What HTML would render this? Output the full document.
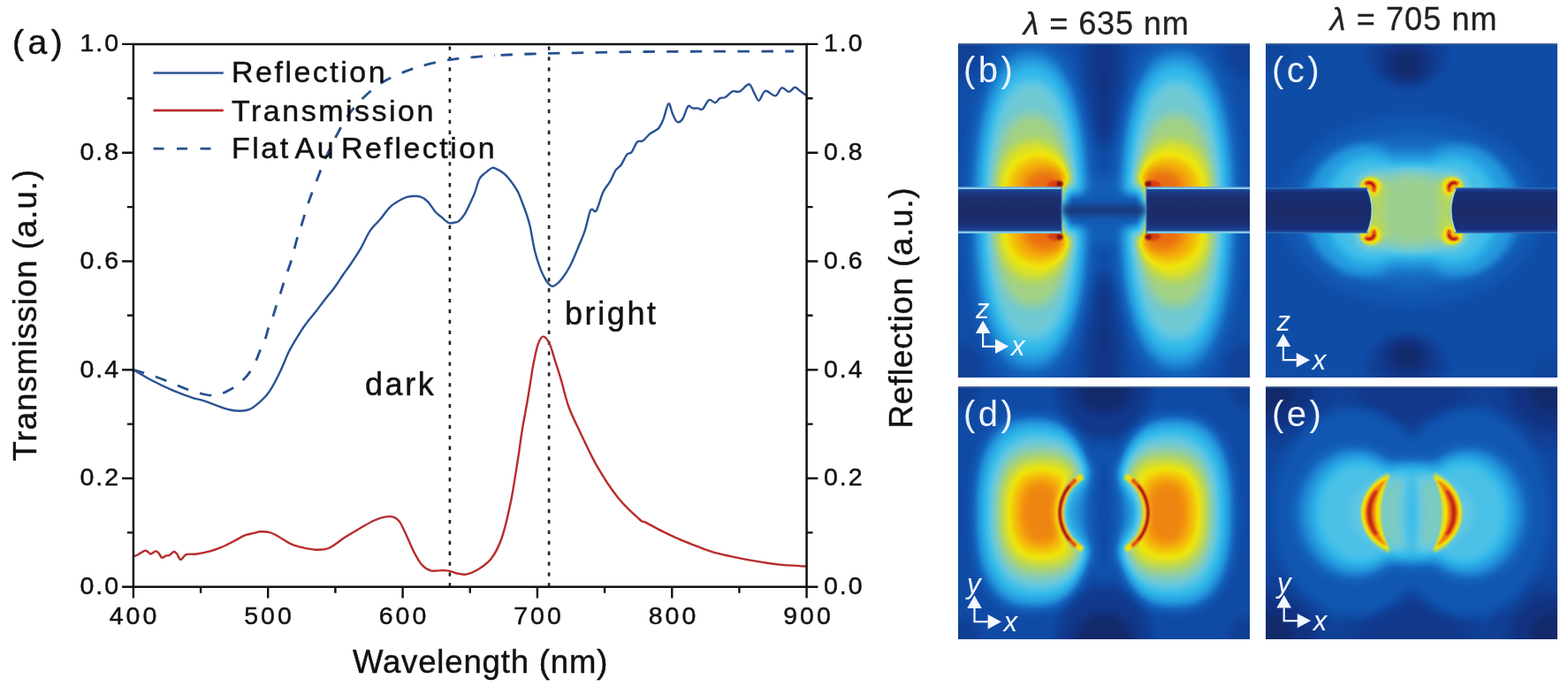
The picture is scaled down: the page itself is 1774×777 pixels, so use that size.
<!DOCTYPE html><html><head><meta charset="utf-8"><style>html,body{margin:0;padding:0;background:#fff;overflow:hidden;}svg{display:block}text{font-family:'Liberation Sans', Arial, sans-serif}</style></head><body>
<svg width="1774" height="777" viewBox="0 0 1774 777">
<defs>
<filter id="fb" x="-50%" y="-50%" width="200%" height="200%" color-interpolation-filters="sRGB"><feGaussianBlur stdDeviation="6"/><feComponentTransfer><feFuncR type="table" tableValues="0.078 0.077 0.075 0.074 0.072 0.071 0.068 0.066 0.064 0.061 0.059 0.062 0.066 0.070 0.074 0.078 0.089 0.100 0.112 0.124 0.135 0.147 0.159 0.170 0.182 0.194 0.227 0.266 0.305 0.344 0.383 0.416 0.447 0.478 0.509 0.540 0.574 0.609 0.644 0.679 0.714 0.755 0.797 0.840 0.883 0.926 0.944 0.948 0.951 0.955 0.959 0.956 0.948 0.941 0.933 0.925 0.907 0.881 0.855 0.829 0.759 0.676 0.593 0.510"/><feFuncG type="table" tableValues="0.137 0.149 0.161 0.172 0.184 0.196 0.215 0.234 0.254 0.273 0.293 0.312 0.331 0.351 0.370 0.390 0.426 0.465 0.504 0.543 0.582 0.611 0.638 0.666 0.693 0.720 0.735 0.746 0.758 0.770 0.782 0.787 0.791 0.795 0.799 0.803 0.810 0.817 0.825 0.833 0.841 0.851 0.863 0.874 0.886 0.898 0.875 0.832 0.789 0.746 0.703 0.656 0.605 0.555 0.504 0.454 0.399 0.342 0.285 0.228 0.183 0.142 0.100 0.059"/><feFuncB type="table" tableValues="0.333 0.368 0.403 0.438 0.473 0.508 0.536 0.563 0.590 0.618 0.645 0.665 0.684 0.704 0.723 0.743 0.766 0.789 0.812 0.836 0.859 0.873 0.884 0.896 0.908 0.919 0.915 0.908 0.900 0.892 0.884 0.853 0.814 0.775 0.736 0.697 0.639 0.573 0.506 0.440 0.374 0.311 0.248 0.186 0.124 0.062 0.039 0.039 0.039 0.039 0.039 0.044 0.052 0.059 0.067 0.075 0.078 0.078 0.078 0.078 0.074 0.069 0.064 0.059"/></feComponentTransfer></filter>
<filter id="fc" x="-50%" y="-50%" width="200%" height="200%" color-interpolation-filters="sRGB"><feGaussianBlur stdDeviation="6"/><feComponentTransfer><feFuncR type="table" tableValues="0.078 0.077 0.075 0.074 0.072 0.071 0.068 0.066 0.064 0.061 0.059 0.062 0.066 0.070 0.074 0.078 0.089 0.100 0.112 0.124 0.135 0.147 0.159 0.170 0.182 0.194 0.227 0.266 0.305 0.344 0.383 0.416 0.447 0.478 0.509 0.540 0.574 0.609 0.644 0.679 0.714 0.755 0.797 0.840 0.883 0.926 0.944 0.948 0.951 0.955 0.959 0.956 0.948 0.941 0.933 0.925 0.907 0.881 0.855 0.829 0.759 0.676 0.593 0.510"/><feFuncG type="table" tableValues="0.137 0.149 0.161 0.172 0.184 0.196 0.215 0.234 0.254 0.273 0.293 0.312 0.331 0.351 0.370 0.390 0.426 0.465 0.504 0.543 0.582 0.611 0.638 0.666 0.693 0.720 0.735 0.746 0.758 0.770 0.782 0.787 0.791 0.795 0.799 0.803 0.810 0.817 0.825 0.833 0.841 0.851 0.863 0.874 0.886 0.898 0.875 0.832 0.789 0.746 0.703 0.656 0.605 0.555 0.504 0.454 0.399 0.342 0.285 0.228 0.183 0.142 0.100 0.059"/><feFuncB type="table" tableValues="0.333 0.368 0.403 0.438 0.473 0.508 0.536 0.563 0.590 0.618 0.645 0.665 0.684 0.704 0.723 0.743 0.766 0.789 0.812 0.836 0.859 0.873 0.884 0.896 0.908 0.919 0.915 0.908 0.900 0.892 0.884 0.853 0.814 0.775 0.736 0.697 0.639 0.573 0.506 0.440 0.374 0.311 0.248 0.186 0.124 0.062 0.039 0.039 0.039 0.039 0.039 0.044 0.052 0.059 0.067 0.075 0.078 0.078 0.078 0.078 0.074 0.069 0.064 0.059"/></feComponentTransfer></filter>
<filter id="fd" x="-50%" y="-50%" width="200%" height="200%" color-interpolation-filters="sRGB"><feGaussianBlur stdDeviation="6"/><feComponentTransfer><feFuncR type="table" tableValues="0.078 0.077 0.075 0.074 0.072 0.071 0.068 0.066 0.064 0.061 0.059 0.062 0.066 0.070 0.074 0.078 0.089 0.100 0.112 0.124 0.135 0.147 0.159 0.170 0.182 0.194 0.227 0.266 0.305 0.344 0.383 0.416 0.447 0.478 0.509 0.540 0.574 0.609 0.644 0.679 0.714 0.755 0.797 0.840 0.883 0.926 0.944 0.948 0.951 0.955 0.959 0.956 0.948 0.941 0.933 0.925 0.907 0.881 0.855 0.829 0.759 0.676 0.593 0.510"/><feFuncG type="table" tableValues="0.137 0.149 0.161 0.172 0.184 0.196 0.215 0.234 0.254 0.273 0.293 0.312 0.331 0.351 0.370 0.390 0.426 0.465 0.504 0.543 0.582 0.611 0.638 0.666 0.693 0.720 0.735 0.746 0.758 0.770 0.782 0.787 0.791 0.795 0.799 0.803 0.810 0.817 0.825 0.833 0.841 0.851 0.863 0.874 0.886 0.898 0.875 0.832 0.789 0.746 0.703 0.656 0.605 0.555 0.504 0.454 0.399 0.342 0.285 0.228 0.183 0.142 0.100 0.059"/><feFuncB type="table" tableValues="0.333 0.368 0.403 0.438 0.473 0.508 0.536 0.563 0.590 0.618 0.645 0.665 0.684 0.704 0.723 0.743 0.766 0.789 0.812 0.836 0.859 0.873 0.884 0.896 0.908 0.919 0.915 0.908 0.900 0.892 0.884 0.853 0.814 0.775 0.736 0.697 0.639 0.573 0.506 0.440 0.374 0.311 0.248 0.186 0.124 0.062 0.039 0.039 0.039 0.039 0.039 0.044 0.052 0.059 0.067 0.075 0.078 0.078 0.078 0.078 0.074 0.069 0.064 0.059"/></feComponentTransfer></filter>
<filter id="fe" x="-50%" y="-50%" width="200%" height="200%" color-interpolation-filters="sRGB"><feGaussianBlur stdDeviation="6"/><feComponentTransfer><feFuncR type="table" tableValues="0.078 0.077 0.075 0.074 0.072 0.071 0.068 0.066 0.064 0.061 0.059 0.062 0.066 0.070 0.074 0.078 0.089 0.100 0.112 0.124 0.135 0.147 0.159 0.170 0.182 0.194 0.227 0.266 0.305 0.344 0.383 0.416 0.447 0.478 0.509 0.540 0.574 0.609 0.644 0.679 0.714 0.755 0.797 0.840 0.883 0.926 0.944 0.948 0.951 0.955 0.959 0.956 0.948 0.941 0.933 0.925 0.907 0.881 0.855 0.829 0.759 0.676 0.593 0.510"/><feFuncG type="table" tableValues="0.137 0.149 0.161 0.172 0.184 0.196 0.215 0.234 0.254 0.273 0.293 0.312 0.331 0.351 0.370 0.390 0.426 0.465 0.504 0.543 0.582 0.611 0.638 0.666 0.693 0.720 0.735 0.746 0.758 0.770 0.782 0.787 0.791 0.795 0.799 0.803 0.810 0.817 0.825 0.833 0.841 0.851 0.863 0.874 0.886 0.898 0.875 0.832 0.789 0.746 0.703 0.656 0.605 0.555 0.504 0.454 0.399 0.342 0.285 0.228 0.183 0.142 0.100 0.059"/><feFuncB type="table" tableValues="0.333 0.368 0.403 0.438 0.473 0.508 0.536 0.563 0.590 0.618 0.645 0.665 0.684 0.704 0.723 0.743 0.766 0.789 0.812 0.836 0.859 0.873 0.884 0.896 0.908 0.919 0.915 0.908 0.900 0.892 0.884 0.853 0.814 0.775 0.736 0.697 0.639 0.573 0.506 0.440 0.374 0.311 0.248 0.186 0.124 0.062 0.039 0.039 0.039 0.039 0.039 0.044 0.052 0.059 0.067 0.075 0.078 0.078 0.078 0.078 0.074 0.069 0.064 0.059"/></feComponentTransfer></filter>
<filter id="fs" x="-50%" y="-50%" width="200%" height="200%" color-interpolation-filters="sRGB"><feGaussianBlur stdDeviation="1.3"/><feComponentTransfer><feFuncR type="table" tableValues="0.078 0.077 0.075 0.074 0.072 0.071 0.068 0.066 0.064 0.061 0.059 0.062 0.066 0.070 0.074 0.078 0.089 0.100 0.112 0.124 0.135 0.147 0.159 0.170 0.182 0.194 0.227 0.266 0.305 0.344 0.383 0.416 0.447 0.478 0.509 0.540 0.574 0.609 0.644 0.679 0.714 0.755 0.797 0.840 0.883 0.926 0.944 0.948 0.951 0.955 0.959 0.956 0.948 0.941 0.933 0.925 0.907 0.881 0.855 0.829 0.759 0.676 0.593 0.510"/><feFuncG type="table" tableValues="0.137 0.149 0.161 0.172 0.184 0.196 0.215 0.234 0.254 0.273 0.293 0.312 0.331 0.351 0.370 0.390 0.426 0.465 0.504 0.543 0.582 0.611 0.638 0.666 0.693 0.720 0.735 0.746 0.758 0.770 0.782 0.787 0.791 0.795 0.799 0.803 0.810 0.817 0.825 0.833 0.841 0.851 0.863 0.874 0.886 0.898 0.875 0.832 0.789 0.746 0.703 0.656 0.605 0.555 0.504 0.454 0.399 0.342 0.285 0.228 0.183 0.142 0.100 0.059"/><feFuncB type="table" tableValues="0.333 0.368 0.403 0.438 0.473 0.508 0.536 0.563 0.590 0.618 0.645 0.665 0.684 0.704 0.723 0.743 0.766 0.789 0.812 0.836 0.859 0.873 0.884 0.896 0.908 0.919 0.915 0.908 0.900 0.892 0.884 0.853 0.814 0.775 0.736 0.697 0.639 0.573 0.506 0.440 0.374 0.311 0.248 0.186 0.124 0.062 0.039 0.039 0.039 0.039 0.039 0.044 0.052 0.059 0.067 0.075 0.078 0.078 0.078 0.078 0.074 0.069 0.064 0.059"/></feComponentTransfer></filter>
<filter id="soft2" x="-20%" y="-50%" width="140%" height="200%"><feGaussianBlur stdDeviation="3"/></filter>
<filter id="soft1"><feGaussianBlur stdDeviation="0.6"/></filter>
<linearGradient id="barg" x1="0" y1="0" x2="0" y2="1"><stop offset="0" stop-color="#1a5ab0"/><stop offset="0.1" stop-color="#1b3c8a"/><stop offset="0.22" stop-color="#1c2f72"/><stop offset="0.5" stop-color="#1c2a64"/><stop offset="0.78" stop-color="#1c2f72"/><stop offset="0.9" stop-color="#1b3c8a"/><stop offset="1" stop-color="#1a5ab0"/></linearGradient>
<linearGradient id="barg2" x1="0" y1="0" x2="0" y2="1"><stop offset="0" stop-color="#1a4aa0"/><stop offset="0.1" stop-color="#182f78"/><stop offset="0.5" stop-color="#1c2a66"/><stop offset="0.9" stop-color="#182f78"/><stop offset="1" stop-color="#1a4aa0"/></linearGradient>
<linearGradient id="gapg" x1="0" y1="0" x2="0" y2="1"><stop offset="0" stop-color="#1a5ab0" stop-opacity="0"/><stop offset="0.5" stop-color="#1c2c66"/><stop offset="1" stop-color="#1a5ab0" stop-opacity="0"/></linearGradient>
<clipPath id="cb"><rect x="1084" y="49" width="330" height="378"/></clipPath>
<clipPath id="cc"><rect x="1432" y="49" width="330" height="378"/></clipPath>
<clipPath id="cd"><rect x="1084" y="437" width="330" height="286"/></clipPath>
<clipPath id="ce"><rect x="1432" y="437" width="330" height="286"/></clipPath>
</defs>
<rect width="1774" height="777" fill="#fff"/>
<line x1="508.9" y1="51.9" x2="508.9" y2="663.8" stroke="#222" stroke-width="2.6" stroke-dasharray="4.3 7.6" stroke-dashoffset="-0.5"/>
<line x1="621.1" y1="51.9" x2="621.1" y2="663.8" stroke="#222" stroke-width="2.6" stroke-dasharray="4.3 7.6" stroke-dashoffset="-0.5"/>
<path d="M151.2,418.4 C155.4,419.7 168.7,423.4 176.6,426.2 C184.5,429.0 191.8,432.3 198.6,435.0 C205.4,437.7 210.8,440.3 217.7,442.3 C224.5,444.3 232.9,447.2 239.7,447.1 C246.5,447.0 252.3,445.0 258.7,441.6 C265.1,438.2 272.8,432.2 277.8,426.9 C282.8,421.6 285.9,414.9 288.6,410.0 C291.3,405.1 292.0,401.7 293.9,397.3 C295.8,392.9 298.6,387.5 300.1,383.4 C301.7,379.3 301.8,376.7 303.2,372.6 C304.6,368.5 307.1,363.1 308.6,358.7 C310.1,354.3 311.0,350.7 312.4,346.3 C313.8,341.9 315.7,336.8 317.1,332.4 C318.5,328.0 319.5,324.5 320.9,320.1 C322.3,315.7 324.0,310.9 325.6,306.2 C327.2,301.5 328.7,297.8 330.4,292.0 C332.1,286.2 333.8,277.8 335.6,271.6 C337.4,265.4 339.0,261.4 341.0,255.0 C343.0,248.6 345.7,239.2 347.7,233.0 C349.7,226.8 351.0,223.5 353.0,218.0 C355.0,212.5 357.7,205.7 359.9,200.0 C362.1,194.3 364.0,188.9 366.0,184.0 C368.0,179.1 369.2,176.5 372.0,170.8 C374.8,165.1 378.9,156.7 382.5,150.0 C386.1,143.3 389.6,136.7 393.8,130.6 C398.1,124.5 402.8,119.0 408.0,113.6 C413.2,108.2 422.1,100.6 424.9,98.0" fill="none" stroke="#27508f" stroke-width="2.8" stroke-dasharray="13.4 13.4" stroke-dashoffset="0.98"/>
<path d="M424.9,98.0 C427.3,96.6 433.0,92.6 439.1,89.5 C445.2,86.4 454.6,82.3 461.7,79.6 C468.8,76.9 473.7,75.4 481.6,73.4 C489.5,71.4 500.5,68.9 509.0,67.5 C517.5,66.1 524.0,65.7 532.5,64.9 C541.0,64.1 555.4,63.0 560.0,62.6" fill="none" stroke="#27508f" stroke-width="2.8" stroke-dasharray="13.4 13.4" stroke-dashoffset="20.09"/>
<path d="M560.0,62.6 C566.7,62.3 585.0,61.5 600.0,61.0 C615.0,60.5 628.3,60.2 650.0,59.8 C671.7,59.4 705.0,58.8 730.0,58.5 C755.0,58.2 772.0,58.3 800.0,58.2 C828.0,58.1 881.7,58.0 898.0,58.0" fill="none" stroke="#27508f" stroke-width="2.8" stroke-dasharray="13.4 13.4" stroke-dashoffset="20.22"/>
<path d="M151.2,418.4 C154.5,420.3 163.4,425.9 170.8,429.8 C178.2,433.7 187.6,438.2 195.7,441.6 C203.8,445.0 213.2,448.4 219.1,450.3 C225.0,452.2 224.1,451.1 230.9,453.3 C237.8,455.5 251.9,461.8 260.2,463.5 C268.5,465.2 274.8,465.2 280.7,463.5 C286.6,461.8 291.2,456.9 295.4,453.3 C299.5,449.7 302.0,447.2 305.6,441.6 C309.2,436.1 313.7,427.1 317.1,420.0 C320.6,412.9 323.5,404.7 326.3,398.8 C329.1,392.9 331.0,390.0 334.1,384.9 C337.2,379.8 341.0,373.4 344.9,368.0 C348.8,362.6 353.6,357.1 357.2,352.5 C360.8,347.9 362.9,344.8 366.5,340.2 C370.1,335.6 375.2,329.6 378.8,324.7 C382.4,319.8 385.3,314.9 388.1,310.8 C390.9,306.7 392.6,304.8 395.8,300.0 C399.1,295.2 403.8,288.4 407.6,281.9 C411.5,275.3 415.1,266.3 418.9,260.7 C422.7,255.0 426.4,252.5 430.2,248.0 C434.0,243.5 437.4,237.7 441.6,233.8 C445.9,229.9 451.8,226.7 455.7,224.7 C459.6,222.7 461.6,222.3 465.0,222.0 C468.4,221.7 472.7,221.6 475.9,222.6 C479.1,223.6 481.2,225.3 484.0,228.1 C486.8,230.9 489.8,236.5 492.5,239.5 C495.2,242.5 497.9,244.1 500.0,245.9 C502.1,247.7 503.6,249.3 505.1,250.4 C506.6,251.5 507.5,252.2 509.0,252.4 C510.5,252.6 512.5,252.1 514.2,251.7 C515.9,251.3 517.4,251.4 519.3,249.8 C521.2,248.2 523.6,245.5 525.7,242.1 C527.9,238.7 530.3,233.3 532.2,229.2 C534.1,225.1 535.6,222.1 537.3,217.6 C539.0,213.1 540.6,205.8 542.5,202.2 C544.4,198.5 546.5,197.7 548.9,195.7 C551.2,193.7 554.5,190.8 556.6,190.0 C558.8,189.2 559.6,190.2 561.8,191.2 C563.9,192.1 567.1,193.9 569.5,195.7 C571.9,197.5 573.8,199.6 575.9,202.2 C578.0,204.8 580.7,208.6 582.4,211.2 C584.1,213.8 584.7,214.4 586.2,217.6 C587.7,220.8 589.7,226.0 591.4,230.5 C593.1,235.0 595.1,240.1 596.5,244.6 C597.9,249.1 598.6,250.9 600.0,257.5 C601.4,264.1 603.2,276.1 605.1,284.0 C607.0,291.9 609.5,299.0 611.6,304.6 C613.8,310.2 616.1,314.4 618.0,317.5 C619.9,320.6 621.5,322.3 623.2,323.2 C624.9,324.1 626.2,324.0 628.3,322.6 C630.4,321.2 633.2,318.5 636.0,314.9 C638.8,311.3 642.0,306.6 645.0,300.8 C648.0,295.0 651.2,286.9 654.0,280.2 C656.8,273.5 659.3,268.0 661.7,260.9 C664.1,253.8 666.1,241.5 668.2,237.7 C670.4,233.9 672.2,241.7 674.6,238.3 C677.0,234.9 679.7,222.6 682.3,217.2 C684.9,211.8 687.6,209.7 690.0,205.6 C692.4,201.5 694.4,195.9 696.5,192.7 C698.6,189.5 700.8,189.3 702.9,186.3 C705.0,183.3 707.4,177.0 709.3,174.7 C711.2,172.3 712.6,174.5 714.5,172.2 C716.4,169.8 718.8,162.8 720.9,160.6 C723.0,158.4 724.9,160.8 727.3,159.3 C729.6,157.8 732.6,153.5 735.0,151.6 C737.4,149.7 739.7,149.0 741.5,147.7 C743.3,146.4 744.5,146.2 746.0,144.0 C747.5,141.8 748.9,139.2 750.6,134.7 C752.3,130.2 754.7,118.2 756.4,117.2 C758.1,116.2 759.3,125.2 760.9,128.6 C762.5,132.0 764.1,136.8 766.0,137.8 C767.9,138.8 770.1,137.6 772.2,134.7 C774.3,131.8 776.5,122.3 778.4,120.3 C780.3,118.2 781.7,122.1 783.6,122.4 C785.5,122.8 787.8,122.2 789.7,122.4 C791.6,122.6 792.8,125.0 794.9,123.4 C797.0,121.9 799.7,114.3 802.1,113.1 C804.5,111.9 807.2,116.5 809.3,116.2 C811.3,115.9 812.5,112.1 814.4,111.1 C816.3,110.1 818.2,111.3 820.6,110.0 C823.0,108.7 826.1,104.5 828.9,103.4 C831.6,102.3 834.0,104.8 837.1,103.4 C840.2,102.0 844.6,94.8 847.4,95.2 C850.1,95.6 851.7,102.8 853.6,105.9 C855.5,109.0 856.7,114.2 858.7,113.7 C860.8,113.2 862.8,103.7 865.9,102.8 C869.0,101.9 874.2,109.0 877.3,108.4 C880.4,107.8 881.9,100.0 884.5,99.3 C887.1,98.5 890.2,104.0 892.7,103.9 C895.2,103.8 897.2,98.9 899.3,98.7 C901.4,98.5 903.0,101.2 905.1,102.8 C907.2,104.3 910.9,107.1 912.1,108.0" fill="none" stroke="#2a5394" stroke-width="2.4" stroke-linejoin="round"/>
<path d="M151.2,629.4 C152.0,629.0 154.3,628.3 156.3,627.2 C158.3,626.1 161.6,623.6 163.4,623.0 C165.2,622.4 165.7,623.1 166.9,623.7 C168.1,624.3 169.0,626.5 170.5,626.5 C172.0,626.5 174.6,623.5 176.1,623.4 C177.6,623.3 178.5,624.6 179.7,625.8 C180.9,627.0 181.9,630.3 183.2,630.8 C184.5,631.3 186.1,629.1 187.5,628.6 C188.9,628.1 190.2,628.8 191.7,628.0 C193.2,627.2 195.3,624.2 196.7,624.0 C198.1,623.8 198.9,625.0 200.2,626.5 C201.5,628.0 202.6,632.8 204.4,632.9 C206.2,633.0 207.7,628.3 210.8,627.2 C213.9,626.1 218.4,627.1 222.8,626.5 C227.2,625.9 232.3,625.0 237.0,623.7 C241.7,622.4 246.5,620.7 251.2,618.7 C255.9,616.7 261.1,613.9 265.3,611.7 C269.5,609.5 273.1,607.0 276.6,605.6 C280.1,604.2 283.4,603.9 286.5,603.2 C289.6,602.5 291.9,601.5 295.0,601.3 C298.1,601.1 301.7,601.3 305.0,602.2 C308.3,603.1 310.9,604.5 314.9,606.7 C318.9,608.9 324.8,613.2 329.0,615.2 C333.2,617.2 335.4,617.6 340.0,618.7 C344.6,619.8 351.4,621.5 356.7,621.7 C362.0,621.9 366.2,622.3 371.8,620.0 C377.4,617.7 384.4,611.5 390.2,607.8 C396.0,604.1 401.3,600.9 406.9,597.7 C412.5,594.5 418.7,590.7 423.7,588.5 C428.7,586.3 433.5,585.0 437.1,584.4 C440.7,583.8 442.9,583.9 445.4,584.9 C447.9,585.9 449.6,586.5 452.1,590.2 C454.6,593.9 457.7,601.0 460.5,606.9 C463.3,612.8 466.1,620.1 468.9,625.4 C471.7,630.7 474.1,635.4 477.2,638.7 C480.3,642.0 483.4,644.3 487.3,645.4 C491.2,646.5 497.1,645.0 500.7,645.1 C504.3,645.2 506.2,645.2 509.0,645.8 C511.8,646.4 514.3,647.9 517.4,648.5 C520.5,649.1 523.6,650.2 527.4,649.6 C531.2,649.0 535.2,647.6 540.0,644.6 C544.8,641.6 551.3,637.7 556.0,631.5 C560.7,625.3 564.4,618.1 568.0,607.5 C571.6,596.9 574.9,582.2 577.9,567.6 C580.9,553.0 583.7,533.5 585.9,519.7 C588.1,505.9 589.2,495.8 591.0,485.0 C592.8,474.2 594.8,464.2 596.4,455.0 C598.0,445.8 599.3,437.2 600.5,430.0 C601.7,422.8 602.1,418.2 603.5,411.5 C604.9,404.8 606.8,394.8 608.6,389.6 C610.4,384.5 612.2,380.8 614.4,380.6 C616.5,380.4 619.2,383.8 621.5,388.3 C623.8,392.8 625.8,401.0 627.9,407.6 C630.0,414.2 631.8,419.5 634.4,428.2 C637.0,436.9 639.8,450.1 643.4,460.0 C647.0,469.9 650.4,476.4 655.8,487.7 C661.2,499.0 668.4,515.1 675.7,527.7 C683.0,540.4 691.7,553.6 699.7,563.6 C707.7,573.6 718.6,583.0 723.6,587.5 C728.6,592.0 725.7,588.4 730.0,590.6 C734.3,592.8 742.9,597.7 749.3,600.9 C755.7,604.1 762.2,607.1 768.6,609.9 C775.0,612.7 781.5,615.1 787.9,617.6 C794.3,620.1 800.8,622.8 807.2,624.7 C813.6,626.6 820.1,627.8 826.5,629.2 C832.9,630.6 839.4,631.9 845.8,633.1 C852.2,634.3 858.7,635.3 865.1,636.3 C871.5,637.3 876.6,638.2 884.4,638.9 C892.2,639.6 907.5,640.2 912.1,640.5" fill="none" stroke="#b82c2c" stroke-width="2.4" stroke-linejoin="round"/>
<path d="M150.9,49.9 H912.6 V663.8 H150.9 Z" fill="none" stroke="#111" stroke-width="2.5"/>
<path d="M150.9,663.8h-12.8 M912.6,663.8h12.8 M150.9,602.4h-7.0 M912.6,602.4h7.0 M150.9,541.0h-12.8 M912.6,541.0h12.8 M150.9,479.6h-7.0 M912.6,479.6h7.0 M150.9,418.2h-12.8 M912.6,418.2h12.8 M150.9,356.8h-7.0 M912.6,356.8h7.0 M150.9,295.5h-12.8 M912.6,295.5h12.8 M150.9,234.1h-7.0 M912.6,234.1h7.0 M150.9,172.7h-12.8 M912.6,172.7h12.8 M150.9,111.3h-7.0 M912.6,111.3h7.0 M150.9,49.9h-12.8 M912.6,49.9h12.8 M150.9,663.8v12.8 M227.1,663.8v7.0 M303.2,663.8v12.8 M379.4,663.8v7.0 M455.6,663.8v12.8 M531.8,663.8v7.0 M607.9,663.8v12.8 M684.1,663.8v7.0 M760.3,663.8v12.8 M836.4,663.8v7.0 M912.6,663.8v12.8" stroke="#111" stroke-width="2.4" fill="none"/>

<g fill="#111" stroke="#111" stroke-width="0.45">
<text x="14" y="60.5" font-size="39" letter-spacing="4.5">(a)</text>
<g font-size="28.5" text-anchor="end" letter-spacing="2">
<text x="136" y="58.2">1.0</text><text x="136" y="181">0.8</text><text x="136" y="303.8">0.6</text>
<text x="136" y="426.6">0.4</text><text x="136" y="549.4">0.2</text><text x="136" y="672.2">0.0</text>
</g>
<g font-size="28.5" text-anchor="start" letter-spacing="2">
<text x="932" y="58.2">1.0</text><text x="932" y="181">0.8</text><text x="932" y="303.8">0.6</text>
<text x="932" y="426.6">0.4</text><text x="932" y="549.4">0.2</text><text x="932" y="672.2">0.0</text>
</g>
<g font-size="28.5" text-anchor="middle" letter-spacing="3">
<text x="152" y="706.4">400</text><text x="304.5" y="706.4">500</text><text x="457" y="706.4">600</text>
<text x="609.5" y="706.4">700</text><text x="762" y="706.4">800</text><text x="914.5" y="706.4">900</text>
</g>
<text x="543.6" y="761" font-size="36.5" text-anchor="middle" letter-spacing="0.85">Wavelength (nm)</text>
<text transform="translate(40.7,356.1) rotate(-90)" font-size="36.5" text-anchor="middle" letter-spacing="1.03">Transmission (a.u.)</text>
<text transform="translate(1032.3,348) rotate(-90)" font-size="36.5" text-anchor="middle" letter-spacing="0.91">Reflection (a.u.)</text>
<g font-size="34" letter-spacing="2.5">
<text x="262" y="93.3">Reflection</text><text x="262" y="136.6">Transmission</text><text x="262" y="179.3">Flat</text><text x="333.5" y="179.3">Au</text><text x="386" y="179.3">Reflection</text>
</g>
<text x="413" y="446.8" font-size="36" letter-spacing="2.6">dark</text>
<text x="639" y="367.1" font-size="36" letter-spacing="2.6">bright</text>
</g>
<line x1="173.5" y1="82.5" x2="252.8" y2="82.5" stroke="#2a5394" stroke-width="2.6"/>
<line x1="173.5" y1="124.9" x2="252.8" y2="124.9" stroke="#b82c2c" stroke-width="2.6"/>
<line x1="173.5" y1="168.1" x2="241.1" y2="168.1" stroke="#27508f" stroke-width="2.9" stroke-dasharray="12 14.5"/>
<g fill="#222" stroke="#222" stroke-width="0.3" font-size="36">
<text x="1157.8" y="38.9" letter-spacing="0.9"><tspan font-style="italic">λ</tspan> = 635 nm</text>
<text x="1504.8" y="34.3" letter-spacing="1.1"><tspan font-style="italic">λ</tspan> = 705 nm</text>
</g>

<g clip-path="url(#cb)"><g transform="translate(1084,49)"><g filter="url(#fb)"><rect x="-60.0" y="-60.0" width="450.0" height="500.0" fill="rgb(43,43,43)"/>
<ellipse cx="0.0" cy="0.0" rx="30.0" ry="40.0" fill="rgb(33,33,33)"/>
<ellipse cx="330.0" cy="0.0" rx="30.0" ry="40.0" fill="rgb(33,33,33)"/>
<ellipse cx="0.0" cy="378.0" rx="30.0" ry="40.0" fill="rgb(33,33,33)"/>
<ellipse cx="330.0" cy="378.0" rx="30.0" ry="40.0" fill="rgb(33,33,33)"/>
<ellipse cx="165.0" cy="-10.0" rx="26.0" ry="130.0" fill="rgb(31,31,31)"/>
<ellipse cx="165.0" cy="388.0" rx="26.0" ry="130.0" fill="rgb(31,31,31)"/>
<ellipse cx="165.0" cy="-10.0" rx="12.0" ry="120.0" fill="rgb(23,23,23)"/>
<ellipse cx="165.0" cy="388.0" rx="12.0" ry="120.0" fill="rgb(23,23,23)"/>
<path d="M156.0,189.0 L155.4,223.0 L153.8,250.7 L151.1,275.8 L147.3,298.5 L142.5,318.9 L136.7,337.0 L130.1,352.5 L122.5,365.5 L114.1,375.7 L104.8,383.1 L94.6,387.5 L82.0,389.0 L69.4,387.5 L59.2,383.1 L49.9,375.7 L41.5,365.5 L33.9,352.5 L27.3,337.0 L21.5,318.9 L16.7,298.5 L12.9,275.8 L10.2,250.7 L8.6,223.0 L8.0,189.0 L8.6,155.0 L10.2,127.3 L12.9,102.2 L16.7,79.5 L21.5,59.1 L27.3,41.0 L33.9,25.5 L41.5,12.5 L49.9,2.3 L59.2,-5.1 L69.4,-9.5 L82.0,-11.0 L94.6,-9.5 L104.8,-5.1 L114.1,2.3 L122.5,12.5 L130.1,25.5 L136.7,41.0 L142.5,59.1 L147.3,79.5 L151.1,102.2 L153.8,127.3 L155.4,155.0Z" fill="rgb(54,54,54)"/>
<path d="M322.0,189.0 L321.4,223.0 L319.8,250.7 L317.1,275.8 L313.3,298.5 L308.5,318.9 L302.7,337.0 L296.1,352.5 L288.5,365.5 L280.1,375.7 L270.8,383.1 L260.6,387.5 L248.0,389.0 L235.4,387.5 L225.2,383.1 L215.9,375.7 L207.5,365.5 L199.9,352.5 L193.3,337.0 L187.5,318.9 L182.7,298.5 L178.9,275.8 L176.2,250.7 L174.6,223.0 L174.0,189.0 L174.6,155.0 L176.2,127.3 L178.9,102.2 L182.7,79.5 L187.5,59.1 L193.3,41.0 L199.9,25.5 L207.5,12.5 L215.9,2.3 L225.2,-5.1 L235.4,-9.5 L248.0,-11.0 L260.6,-9.5 L270.8,-5.1 L280.1,2.3 L288.5,12.5 L296.1,25.5 L302.7,41.0 L308.5,59.1 L313.3,79.5 L317.1,102.2 L319.8,127.3 L321.4,155.0Z" fill="rgb(54,54,54)"/>
<ellipse cx="165.0" cy="189.0" rx="46.0" ry="40.0" fill="rgb(56,56,56)"/>
<path d="M148.0,189.0 L147.5,220.0 L146.0,245.2 L143.6,267.9 L140.2,288.6 L136.0,307.2 L130.8,323.6 L124.9,337.8 L118.1,349.6 L110.6,358.9 L102.4,365.6 L93.2,369.6 L82.0,371.0 L70.8,369.6 L61.6,365.6 L53.4,358.9 L45.9,349.6 L39.1,337.8 L33.2,323.6 L28.0,307.2 L23.8,288.6 L20.4,267.9 L18.0,245.2 L16.5,220.0 L16.0,189.0 L16.5,158.0 L18.0,132.8 L20.4,110.1 L23.8,89.4 L28.0,70.8 L33.2,54.4 L39.1,40.2 L45.9,28.4 L53.4,19.1 L61.6,12.4 L70.8,8.4 L82.0,7.0 L93.2,8.4 L102.4,12.4 L110.6,19.1 L118.1,28.4 L124.9,40.2 L130.8,54.4 L136.0,70.8 L140.2,89.4 L143.6,110.1 L146.0,132.8 L147.5,158.0Z" fill="rgb(76,76,76)"/>
<path d="M314.0,189.0 L313.5,220.0 L312.0,245.2 L309.6,267.9 L306.2,288.6 L302.0,307.2 L296.8,323.6 L290.9,337.8 L284.1,349.6 L276.6,358.9 L268.4,365.6 L259.2,369.6 L248.0,371.0 L236.8,369.6 L227.6,365.6 L219.4,358.9 L211.9,349.6 L205.1,337.8 L199.2,323.6 L194.0,307.2 L189.8,288.6 L186.4,267.9 L184.0,245.2 L182.5,220.0 L182.0,189.0 L182.5,158.0 L184.0,132.8 L186.4,110.1 L189.8,89.4 L194.0,70.8 L199.2,54.4 L205.1,40.2 L211.9,28.4 L219.4,19.1 L227.6,12.4 L236.8,8.4 L248.0,7.0 L259.2,8.4 L268.4,12.4 L276.6,19.1 L284.1,28.4 L290.9,40.2 L296.8,54.4 L302.0,70.8 L306.2,89.4 L309.6,110.1 L312.0,132.8 L313.5,158.0Z" fill="rgb(76,76,76)"/>
<path d="M141.0,189.0 L140.6,217.3 L139.3,240.2 L137.1,261.0 L134.2,279.9 L130.4,296.8 L125.9,311.8 L120.7,324.7 L114.7,335.5 L108.2,344.0 L100.9,350.1 L92.9,353.8 L83.0,355.0 L73.1,353.8 L65.1,350.1 L57.8,344.0 L51.3,335.5 L45.3,324.7 L40.1,311.8 L35.6,296.8 L31.8,279.9 L28.9,261.0 L26.7,240.2 L25.4,217.3 L25.0,189.0 L25.4,160.7 L26.7,137.8 L28.9,117.0 L31.8,98.1 L35.6,81.2 L40.1,66.2 L45.3,53.3 L51.3,42.5 L57.8,34.0 L65.1,27.9 L73.1,24.2 L83.0,23.0 L92.9,24.2 L100.9,27.9 L108.2,34.0 L114.7,42.5 L120.7,53.3 L125.9,66.2 L130.4,81.2 L134.2,98.1 L137.1,117.0 L139.3,137.8 L140.6,160.7Z" fill="rgb(102,102,102)"/>
<path d="M305.0,189.0 L304.6,217.3 L303.3,240.2 L301.1,261.0 L298.2,279.9 L294.4,296.8 L289.9,311.8 L284.7,324.7 L278.7,335.5 L272.2,344.0 L264.9,350.1 L256.9,353.8 L247.0,355.0 L237.1,353.8 L229.1,350.1 L221.8,344.0 L215.3,335.5 L209.3,324.7 L204.1,311.8 L199.6,296.8 L195.8,279.9 L192.9,261.0 L190.7,240.2 L189.4,217.3 L189.0,189.0 L189.4,160.7 L190.7,137.8 L192.9,117.0 L195.8,98.1 L199.6,81.2 L204.1,66.2 L209.3,53.3 L215.3,42.5 L221.8,34.0 L229.1,27.9 L237.1,24.2 L247.0,23.0 L256.9,24.2 L264.9,27.9 L272.2,34.0 L278.7,42.5 L284.7,53.3 L289.9,66.2 L294.4,81.2 L298.2,98.1 L301.1,117.0 L303.3,137.8 L304.6,160.7Z" fill="rgb(102,102,102)"/>
<path d="M134.0,189.0 L133.6,213.9 L132.5,234.1 L130.6,252.3 L128.0,268.9 L124.7,283.8 L120.7,297.0 L116.1,308.4 L110.9,317.8 L105.1,325.3 L98.7,330.7 L91.7,333.9 L83.0,335.0 L74.3,333.9 L67.3,330.7 L60.9,325.3 L55.1,317.8 L49.9,308.4 L45.3,297.0 L41.3,283.8 L38.0,268.9 L35.4,252.3 L33.5,234.1 L32.4,213.9 L32.0,189.0 L32.4,164.1 L33.5,143.9 L35.4,125.7 L38.0,109.1 L41.3,94.2 L45.3,81.0 L49.9,69.6 L55.1,60.2 L60.9,52.7 L67.3,47.3 L74.3,44.1 L83.0,43.0 L91.7,44.1 L98.7,47.3 L105.1,52.7 L110.9,60.2 L116.1,69.6 L120.7,81.0 L124.7,94.2 L128.0,109.1 L130.6,125.7 L132.5,143.9 L133.6,164.1Z" fill="rgb(128,128,128)"/>
<path d="M298.0,189.0 L297.6,213.9 L296.5,234.1 L294.6,252.3 L292.0,268.9 L288.7,283.8 L284.7,297.0 L280.1,308.4 L274.9,317.8 L269.1,325.3 L262.7,330.7 L255.7,333.9 L247.0,335.0 L238.3,333.9 L231.3,330.7 L224.9,325.3 L219.1,317.8 L213.9,308.4 L209.3,297.0 L205.3,283.8 L202.0,268.9 L199.4,252.3 L197.5,234.1 L196.4,213.9 L196.0,189.0 L196.4,164.1 L197.5,143.9 L199.4,125.7 L202.0,109.1 L205.3,94.2 L209.3,81.0 L213.9,69.6 L219.1,60.2 L224.9,52.7 L231.3,47.3 L238.3,44.1 L247.0,43.0 L255.7,44.1 L262.7,47.3 L269.1,52.7 L274.9,60.2 L280.1,69.6 L284.7,81.0 L288.7,94.2 L292.0,109.1 L294.6,125.7 L296.5,143.9 L297.6,164.1Z" fill="rgb(128,128,128)"/>
<path d="M130.0,189.0 L129.7,207.7 L128.6,223.0 L126.9,236.7 L124.6,249.2 L121.6,260.4 L118.0,270.4 L113.9,278.9 L109.2,286.1 L104.0,291.7 L98.2,295.7 L91.8,298.2 L84.0,299.0 L76.2,298.2 L69.8,295.7 L64.0,291.7 L58.8,286.1 L54.1,278.9 L50.0,270.4 L46.4,260.4 L43.4,249.2 L41.1,236.7 L39.4,223.0 L38.3,207.7 L38.0,189.0 L38.3,170.3 L39.4,155.0 L41.1,141.3 L43.4,128.8 L46.4,117.6 L50.0,107.6 L54.1,99.1 L58.8,91.9 L64.0,86.3 L69.8,82.3 L76.2,79.8 L84.0,79.0 L91.8,79.8 L98.2,82.3 L104.0,86.3 L109.2,91.9 L113.9,99.1 L118.0,107.6 L121.6,117.6 L124.6,128.8 L126.9,141.3 L128.6,155.0 L129.7,170.3Z" fill="rgb(153,153,153)"/>
<path d="M292.0,189.0 L291.7,207.7 L290.6,223.0 L288.9,236.7 L286.6,249.2 L283.6,260.4 L280.0,270.4 L275.9,278.9 L271.2,286.1 L266.0,291.7 L260.2,295.7 L253.8,298.2 L246.0,299.0 L238.2,298.2 L231.8,295.7 L226.0,291.7 L220.8,286.1 L216.1,278.9 L212.0,270.4 L208.4,260.4 L205.4,249.2 L203.1,236.7 L201.4,223.0 L200.3,207.7 L200.0,189.0 L200.3,170.3 L201.4,155.0 L203.1,141.3 L205.4,128.8 L208.4,117.6 L212.0,107.6 L216.1,99.1 L220.8,91.9 L226.0,86.3 L231.8,82.3 L238.2,79.8 L246.0,79.0 L253.8,79.8 L260.2,82.3 L266.0,86.3 L271.2,91.9 L275.9,99.1 L280.0,107.6 L283.6,117.6 L286.6,128.8 L288.9,141.3 L290.6,155.0 L291.7,170.3Z" fill="rgb(153,153,153)"/>
<ellipse cx="86.0" cy="162.0" rx="42.0" ry="52.0" fill="rgb(178,178,178)"/>
<ellipse cx="86.0" cy="216.0" rx="42.0" ry="52.0" fill="rgb(178,178,178)"/>
<ellipse cx="244.0" cy="162.0" rx="42.0" ry="52.0" fill="rgb(178,178,178)"/>
<ellipse cx="244.0" cy="216.0" rx="42.0" ry="52.0" fill="rgb(178,178,178)"/>
<ellipse cx="92.0" cy="162.0" rx="35.0" ry="33.0" fill="rgb(204,204,204)"/>
<ellipse cx="92.0" cy="216.0" rx="35.0" ry="33.0" fill="rgb(204,204,204)"/>
<ellipse cx="238.0" cy="162.0" rx="35.0" ry="33.0" fill="rgb(204,204,204)"/>
<ellipse cx="238.0" cy="216.0" rx="35.0" ry="33.0" fill="rgb(204,204,204)"/>
<ellipse cx="99.0" cy="162.0" rx="25.0" ry="19.0" fill="rgb(224,224,224)"/>
<ellipse cx="99.0" cy="216.0" rx="25.0" ry="19.0" fill="rgb(224,224,224)"/>
<ellipse cx="231.0" cy="162.0" rx="25.0" ry="19.0" fill="rgb(224,224,224)"/>
<ellipse cx="231.0" cy="216.0" rx="25.0" ry="19.0" fill="rgb(224,224,224)"/>
<rect x="119.0" y="170.0" width="92.0" height="38.0" fill="rgb(54,54,54)"/>
<ellipse cx="123.0" cy="166.0" rx="5.0" ry="5.0" fill="rgb(76,76,76)"/>
<ellipse cx="207.0" cy="166.0" rx="5.0" ry="5.0" fill="rgb(76,76,76)"/>
<ellipse cx="123.0" cy="212.0" rx="5.0" ry="5.0" fill="rgb(76,76,76)"/>
<ellipse cx="207.0" cy="212.0" rx="5.0" ry="5.0" fill="rgb(76,76,76)"/></g><g filter="url(#fs)"><ellipse cx="110.0" cy="159.5" rx="9.0" ry="4.5" fill="rgb(237,237,237)"/>
<ellipse cx="110.0" cy="218.5" rx="9.0" ry="4.5" fill="rgb(237,237,237)"/>
<ellipse cx="220.0" cy="159.5" rx="9.0" ry="4.5" fill="rgb(237,237,237)"/>
<ellipse cx="220.0" cy="218.5" rx="9.0" ry="4.5" fill="rgb(237,237,237)"/>
<ellipse cx="115.0" cy="159.0" rx="3.5" ry="3.5" fill="rgb(255,255,255)"/>
<ellipse cx="115.0" cy="219.0" rx="3.5" ry="3.5" fill="rgb(255,255,255)"/>
<ellipse cx="215.0" cy="159.0" rx="3.5" ry="3.5" fill="rgb(255,255,255)"/>
<ellipse cx="215.0" cy="219.0" rx="3.5" ry="3.5" fill="rgb(255,255,255)"/></g><rect x="-2" y="162.5" width="119" height="52.5" fill="url(#barg)"/>
<rect x="213" y="162.5" width="119" height="52.5" fill="url(#barg)"/>
<rect x="117" y="175" width="96" height="28" fill="url(#gapg)" filter="url(#soft2)"/>
<path d="M0,163.8H117M213,163.8H330M0,213.8H117M213,213.8H330" stroke="#8fd6ee" stroke-width="2.6" opacity="0.9"/>
<path d="M117,163V215M213,163V215" stroke="#2a70c0" stroke-width="1.5" opacity="0.8"/></g></g>
<g clip-path="url(#cc)"><g transform="translate(1432,49)"><g filter="url(#fc)"><rect x="-60.0" y="-60.0" width="450.0" height="500.0" fill="rgb(42,42,42)"/>
<ellipse cx="0.0" cy="0.0" rx="30.0" ry="30.0" fill="rgb(36,36,36)"/>
<ellipse cx="330.0" cy="378.0" rx="30.0" ry="30.0" fill="rgb(36,36,36)"/>
<ellipse cx="160.0" cy="12.0" rx="45.0" ry="38.0" fill="rgb(31,31,31)"/>
<ellipse cx="160.0" cy="366.0" rx="45.0" ry="38.0" fill="rgb(31,31,31)"/>
<ellipse cx="160.0" cy="22.0" rx="28.0" ry="24.0" fill="rgb(20,20,20)"/>
<ellipse cx="160.0" cy="356.0" rx="28.0" ry="24.0" fill="rgb(20,20,20)"/>
<ellipse cx="160.0" cy="24.0" rx="16.0" ry="14.0" fill="rgb(10,10,10)"/>
<ellipse cx="160.0" cy="354.0" rx="16.0" ry="14.0" fill="rgb(10,10,10)"/>
<ellipse cx="165.0" cy="189.0" rx="150.0" ry="108.0" fill="rgb(51,51,51)"/>
<ellipse cx="165.0" cy="189.0" rx="132.0" ry="86.0" fill="rgb(64,64,64)"/>
<ellipse cx="165.0" cy="189.0" rx="116.0" ry="66.0" fill="rgb(84,84,84)"/>
<ellipse cx="110.0" cy="189.0" rx="64.0" ry="76.0" fill="rgb(84,84,84)"/>
<ellipse cx="220.0" cy="189.0" rx="64.0" ry="76.0" fill="rgb(84,84,84)"/>
<ellipse cx="165.0" cy="189.0" rx="98.0" ry="52.0" fill="rgb(110,110,110)"/>
<ellipse cx="118.0" cy="189.0" rx="50.0" ry="60.0" fill="rgb(110,110,110)"/>
<ellipse cx="212.0" cy="189.0" rx="50.0" ry="60.0" fill="rgb(110,110,110)"/>
<ellipse cx="165.0" cy="189.0" rx="70.0" ry="50.0" fill="rgb(135,135,135)"/>
<ellipse cx="165.0" cy="189.0" rx="46.0" ry="40.0" fill="rgb(150,150,150)"/>
<ellipse cx="124.0" cy="189.0" rx="9.0" ry="30.0" fill="rgb(161,161,161)"/>
<ellipse cx="206.0" cy="189.0" rx="9.0" ry="30.0" fill="rgb(161,161,161)"/>
<circle cx="120.0" cy="164.0" r="15.0" fill="rgb(168,168,168)"/>
<circle cx="120.0" cy="215.0" r="15.0" fill="rgb(168,168,168)"/>
<circle cx="210.0" cy="164.0" r="15.0" fill="rgb(168,168,168)"/>
<circle cx="210.0" cy="215.0" r="15.0" fill="rgb(168,168,168)"/></g><g filter="url(#fs)"><ellipse cx="119.0" cy="162.0" rx="12.0" ry="11.0" fill="rgb(178,178,178)"/>
<ellipse cx="119.0" cy="217.0" rx="12.0" ry="11.0" fill="rgb(178,178,178)"/>
<ellipse cx="211.0" cy="162.0" rx="12.0" ry="11.0" fill="rgb(178,178,178)"/>
<ellipse cx="211.0" cy="217.0" rx="12.0" ry="11.0" fill="rgb(178,178,178)"/>
<ellipse cx="119.5" cy="161.0" rx="7.0" ry="6.5" fill="rgb(199,199,199)"/>
<ellipse cx="119.5" cy="218.0" rx="7.0" ry="6.5" fill="rgb(199,199,199)"/>
<ellipse cx="210.5" cy="161.0" rx="7.0" ry="6.5" fill="rgb(199,199,199)"/>
<ellipse cx="210.5" cy="218.0" rx="7.0" ry="6.5" fill="rgb(199,199,199)"/>
<path d="M111.9,159.4 L113.0,158.5 L114.3,157.9 L115.7,157.6 L117.1,157.5 L118.5,157.8 L119.8,158.4 L120.9,159.2 L121.8,160.3 L122.5,161.5 L122.9,162.9 L123.0,164.3 L122.8,165.7 L122.3,167.0 L121.5,168.2" stroke-width="4.6" stroke="rgb(235,235,235)" fill="none"/>
<path d="M114.3,157.9 L115.7,157.6 L117.1,157.5 L118.5,157.8 L119.8,158.4 L120.9,159.2 L121.8,160.3 L122.5,161.5 L122.9,162.9" stroke-width="2.6" stroke="rgb(255,255,255)" fill="none"/>
<path d="M111.9,219.6 L113.0,220.5 L114.3,221.1 L115.7,221.4 L117.1,221.5 L118.5,221.2 L119.8,220.6 L120.9,219.8 L121.8,218.7 L122.5,217.5 L122.9,216.1 L123.0,214.7 L122.8,213.3 L122.3,212.0 L121.5,210.8" stroke-width="4.6" stroke="rgb(235,235,235)" fill="none"/>
<path d="M114.3,221.1 L115.7,221.4 L117.1,221.5 L118.5,221.2 L119.8,220.6 L120.9,219.8 L121.8,218.7 L122.5,217.5 L122.9,216.1" stroke-width="2.6" stroke="rgb(255,255,255)" fill="none"/>
<path d="M218.1,159.4 L217.0,158.5 L215.7,157.9 L214.3,157.6 L212.9,157.5 L211.5,157.8 L210.2,158.4 L209.1,159.2 L208.2,160.3 L207.5,161.5 L207.1,162.9 L207.0,164.3 L207.2,165.7 L207.7,167.0 L208.5,168.2" stroke-width="4.6" stroke="rgb(235,235,235)" fill="none"/>
<path d="M215.7,157.9 L214.3,157.6 L212.9,157.5 L211.5,157.8 L210.2,158.4 L209.1,159.2 L208.2,160.3 L207.5,161.5 L207.1,162.9" stroke-width="2.6" stroke="rgb(255,255,255)" fill="none"/>
<path d="M218.1,219.6 L217.0,220.5 L215.7,221.1 L214.3,221.4 L212.9,221.5 L211.5,221.2 L210.2,220.6 L209.1,219.8 L208.2,218.7 L207.5,217.5 L207.1,216.1 L207.0,214.7 L207.2,213.3 L207.7,212.0 L208.5,210.8" stroke-width="4.6" stroke="rgb(235,235,235)" fill="none"/>
<path d="M215.7,221.1 L214.3,221.4 L212.9,221.5 L211.5,221.2 L210.2,220.6 L209.1,219.8 L208.2,218.7 L207.5,217.5 L207.1,216.1" stroke-width="2.6" stroke="rgb(255,255,255)" fill="none"/></g><path d="M-2,163.5 H114.5 Q126,189 114.5,214.5 H-2Z" fill="url(#barg2)"/>
<path d="M332,163.5 H215.5 Q204,189 215.5,214.5 H332Z" fill="url(#barg2)"/>
<path d="M114.5,163.5 Q126,189 114.5,214.5 M215.5,163.5 Q204,189 215.5,214.5" fill="none" stroke="#a0e4f4" stroke-width="1.5" opacity="0.85"/>
<path d="M0,163.8H116M214,163.8H330M0,214.2H116M214,214.2H330" stroke="#3a78c0" stroke-width="1.2" opacity="0.8"/></g></g>
<g clip-path="url(#cd)"><g transform="translate(1084,437)"><g filter="url(#fd)"><rect x="-60.0" y="-60.0" width="450.0" height="420.0" fill="rgb(41,41,41)"/>
<ellipse cx="0.0" cy="0.0" rx="25.0" ry="25.0" fill="rgb(31,31,31)"/>
<ellipse cx="330.0" cy="0.0" rx="25.0" ry="25.0" fill="rgb(31,31,31)"/>
<ellipse cx="0.0" cy="286.0" rx="25.0" ry="25.0" fill="rgb(31,31,31)"/>
<ellipse cx="330.0" cy="286.0" rx="25.0" ry="25.0" fill="rgb(31,31,31)"/>
<ellipse cx="165.0" cy="-10.0" rx="55.0" ry="70.0" fill="rgb(26,26,26)"/>
<ellipse cx="165.0" cy="296.0" rx="55.0" ry="70.0" fill="rgb(26,26,26)"/>
<ellipse cx="165.0" cy="-10.0" rx="35.0" ry="40.0" fill="rgb(10,10,10)"/>
<ellipse cx="165.0" cy="296.0" rx="35.0" ry="40.0" fill="rgb(10,10,10)"/>
<path d="M153.0,143.0 L152.5,164.6 L151.1,180.3 L148.8,194.0 L145.6,206.2 L141.5,217.0 L136.5,226.4 L130.7,234.4 L124.1,241.0 L116.5,246.2 L108.1,250.0 L98.3,252.2 L85.0,253.0 L71.7,252.2 L61.9,250.0 L53.5,246.2 L45.9,241.0 L39.3,234.4 L33.5,226.4 L28.5,217.0 L24.4,206.2 L21.2,194.0 L18.9,180.3 L17.5,164.6 L17.0,143.0 L17.5,121.4 L18.9,105.7 L21.2,92.0 L24.4,79.8 L28.5,69.0 L33.5,59.6 L39.3,51.6 L45.9,45.0 L53.5,39.8 L61.9,36.0 L71.7,33.8 L85.0,33.0 L98.3,33.8 L108.1,36.0 L116.5,39.8 L124.1,45.0 L130.7,51.6 L136.5,59.6 L141.5,69.0 L145.6,79.8 L148.8,92.0 L151.1,105.7 L152.5,121.4Z" fill="rgb(76,76,76)"/>
<path d="M313.0,143.0 L312.5,164.6 L311.1,180.3 L308.8,194.0 L305.6,206.2 L301.5,217.0 L296.5,226.4 L290.7,234.4 L284.1,241.0 L276.5,246.2 L268.1,250.0 L258.3,252.2 L245.0,253.0 L231.7,252.2 L221.9,250.0 L213.5,246.2 L205.9,241.0 L199.3,234.4 L193.5,226.4 L188.5,217.0 L184.4,206.2 L181.2,194.0 L178.9,180.3 L177.5,164.6 L177.0,143.0 L177.5,121.4 L178.9,105.7 L181.2,92.0 L184.4,79.8 L188.5,69.0 L193.5,59.6 L199.3,51.6 L205.9,45.0 L213.5,39.8 L221.9,36.0 L231.7,33.8 L245.0,33.0 L258.3,33.8 L268.1,36.0 L276.5,39.8 L284.1,45.0 L290.7,51.6 L296.5,59.6 L301.5,69.0 L305.6,79.8 L308.8,92.0 L311.1,105.7 L312.5,121.4Z" fill="rgb(76,76,76)"/>
<path d="M150.0,143.0 L149.6,162.4 L148.3,176.6 L146.2,188.9 L143.3,199.9 L139.5,209.6 L135.0,218.0 L129.7,225.3 L123.6,231.2 L116.8,235.9 L109.0,239.3 L100.2,241.3 L88.0,242.0 L75.8,241.3 L67.0,239.3 L59.2,235.9 L52.4,231.2 L46.3,225.3 L41.0,218.0 L36.5,209.6 L32.7,199.9 L29.8,188.9 L27.7,176.6 L26.4,162.4 L26.0,143.0 L26.4,123.6 L27.7,109.4 L29.8,97.1 L32.7,86.1 L36.5,76.4 L41.0,68.0 L46.3,60.7 L52.4,54.8 L59.2,50.1 L67.0,46.7 L75.8,44.7 L88.0,44.0 L100.2,44.7 L109.0,46.7 L116.8,50.1 L123.6,54.8 L129.7,60.7 L135.0,68.0 L139.5,76.4 L143.3,86.1 L146.2,97.1 L148.3,109.4 L149.6,123.6Z" fill="rgb(102,102,102)"/>
<path d="M304.0,143.0 L303.6,162.4 L302.3,176.6 L300.2,188.9 L297.3,199.9 L293.5,209.6 L289.0,218.0 L283.7,225.3 L277.6,231.2 L270.8,235.9 L263.0,239.3 L254.2,241.3 L242.0,242.0 L229.8,241.3 L221.0,239.3 L213.2,235.9 L206.4,231.2 L200.3,225.3 L195.0,218.0 L190.5,209.6 L186.7,199.9 L183.8,188.9 L181.7,176.6 L180.4,162.4 L180.0,143.0 L180.4,123.6 L181.7,109.4 L183.8,97.1 L186.7,86.1 L190.5,76.4 L195.0,68.0 L200.3,60.7 L206.4,54.8 L213.2,50.1 L221.0,46.7 L229.8,44.7 L242.0,44.0 L254.2,44.7 L263.0,46.7 L270.8,50.1 L277.6,54.8 L283.7,60.7 L289.0,68.0 L293.5,76.4 L297.3,86.1 L300.2,97.1 L302.3,109.4 L303.6,123.6Z" fill="rgb(102,102,102)"/>
<path d="M148.0,143.0 L147.6,159.9 L146.5,172.2 L144.6,182.9 L141.9,192.4 L138.5,200.8 L134.4,208.2 L129.6,214.5 L124.2,219.7 L118.0,223.7 L111.0,226.6 L103.0,228.4 L92.0,229.0 L81.0,228.4 L73.0,226.6 L66.0,223.7 L59.8,219.7 L54.4,214.5 L49.6,208.2 L45.5,200.8 L42.1,192.4 L39.4,182.9 L37.5,172.2 L36.4,159.9 L36.0,143.0 L36.4,126.1 L37.5,113.8 L39.4,103.1 L42.1,93.6 L45.5,85.2 L49.6,77.8 L54.4,71.5 L59.8,66.3 L66.0,62.3 L73.0,59.4 L81.0,57.6 L92.0,57.0 L103.0,57.6 L111.0,59.4 L118.0,62.3 L124.2,66.3 L129.6,71.5 L134.4,77.8 L138.5,85.2 L141.9,93.6 L144.6,103.1 L146.5,113.8 L147.6,126.1Z" fill="rgb(128,128,128)"/>
<path d="M294.0,143.0 L293.6,159.9 L292.5,172.2 L290.6,182.9 L287.9,192.4 L284.5,200.8 L280.4,208.2 L275.6,214.5 L270.2,219.7 L264.0,223.7 L257.0,226.6 L249.0,228.4 L238.0,229.0 L227.0,228.4 L219.0,226.6 L212.0,223.7 L205.8,219.7 L200.4,214.5 L195.6,208.2 L191.5,200.8 L188.1,192.4 L185.4,182.9 L183.5,172.2 L182.4,159.9 L182.0,143.0 L182.4,126.1 L183.5,113.8 L185.4,103.1 L188.1,93.6 L191.5,85.2 L195.6,77.8 L200.4,71.5 L205.8,66.3 L212.0,62.3 L219.0,59.4 L227.0,57.6 L238.0,57.0 L249.0,57.6 L257.0,59.4 L264.0,62.3 L270.2,66.3 L275.6,71.5 L280.4,77.8 L284.5,85.2 L287.9,93.6 L290.6,103.1 L292.5,113.8 L293.6,126.1Z" fill="rgb(128,128,128)"/>
<path d="M146.0,143.0 L145.7,158.2 L144.6,168.8 L142.9,177.9 L140.6,185.8 L137.5,192.8 L133.8,198.9 L129.5,204.1 L124.5,208.4 L118.8,211.7 L112.4,214.1 L104.9,215.5 L94.0,216.0 L83.1,215.5 L75.6,214.1 L69.2,211.7 L63.5,208.4 L58.5,204.1 L54.2,198.9 L50.5,192.8 L47.4,185.8 L45.1,177.9 L43.4,168.8 L42.3,158.2 L42.0,143.0 L42.3,127.8 L43.4,117.2 L45.1,108.1 L47.4,100.2 L50.5,93.2 L54.2,87.1 L58.5,81.9 L63.5,77.6 L69.2,74.3 L75.6,71.9 L83.1,70.5 L94.0,70.0 L104.9,70.5 L112.4,71.9 L118.8,74.3 L124.5,77.6 L129.5,81.9 L133.8,87.1 L137.5,93.2 L140.6,100.2 L142.9,108.1 L144.6,117.2 L145.7,127.8Z" fill="rgb(153,153,153)"/>
<path d="M288.0,143.0 L287.7,158.2 L286.6,168.8 L284.9,177.9 L282.6,185.8 L279.5,192.8 L275.8,198.9 L271.5,204.1 L266.5,208.4 L260.8,211.7 L254.4,214.1 L246.9,215.5 L236.0,216.0 L225.1,215.5 L217.6,214.1 L211.2,211.7 L205.5,208.4 L200.5,204.1 L196.2,198.9 L192.5,192.8 L189.4,185.8 L187.1,177.9 L185.4,168.8 L184.3,158.2 L184.0,143.0 L184.3,127.8 L185.4,117.2 L187.1,108.1 L189.4,100.2 L192.5,93.2 L196.2,87.1 L200.5,81.9 L205.5,77.6 L211.2,74.3 L217.6,71.9 L225.1,70.5 L236.0,70.0 L246.9,70.5 L254.4,71.9 L260.8,74.3 L266.5,77.6 L271.5,81.9 L275.8,87.1 L279.5,93.2 L282.6,100.2 L284.9,108.1 L286.6,117.2 L287.7,127.8Z" fill="rgb(153,153,153)"/>
<path d="M142.0,143.0 L141.7,155.5 L140.8,164.2 L139.3,171.7 L137.2,178.2 L134.5,184.0 L131.2,189.0 L127.4,193.2 L123.0,196.7 L118.0,199.5 L112.3,201.4 L105.6,202.6 L96.0,203.0 L86.4,202.6 L79.7,201.4 L74.0,199.5 L69.0,196.7 L64.6,193.2 L60.8,189.0 L57.5,184.0 L54.8,178.2 L52.7,171.7 L51.2,164.2 L50.3,155.5 L50.0,143.0 L50.3,130.5 L51.2,121.8 L52.7,114.3 L54.8,107.8 L57.5,102.0 L60.8,97.0 L64.6,92.8 L69.0,89.3 L74.0,86.5 L79.7,84.6 L86.4,83.4 L96.0,83.0 L105.6,83.4 L112.3,84.6 L118.0,86.5 L123.0,89.3 L127.4,92.8 L131.2,97.0 L134.5,102.0 L137.2,107.8 L139.3,114.3 L140.8,121.8 L141.7,130.5Z" fill="rgb(178,178,178)"/>
<path d="M280.0,143.0 L279.7,155.5 L278.8,164.2 L277.3,171.7 L275.2,178.2 L272.5,184.0 L269.2,189.0 L265.4,193.2 L261.0,196.7 L256.0,199.5 L250.3,201.4 L243.6,202.6 L234.0,203.0 L224.4,202.6 L217.7,201.4 L212.0,199.5 L207.0,196.7 L202.6,193.2 L198.8,189.0 L195.5,184.0 L192.8,178.2 L190.7,171.7 L189.2,164.2 L188.3,155.5 L188.0,143.0 L188.3,130.5 L189.2,121.8 L190.7,114.3 L192.8,107.8 L195.5,102.0 L198.8,97.0 L202.6,92.8 L207.0,89.3 L212.0,86.5 L217.7,84.6 L224.4,83.4 L234.0,83.0 L243.6,83.4 L250.3,84.6 L256.0,86.5 L261.0,89.3 L265.4,92.8 L269.2,97.0 L272.5,102.0 L275.2,107.8 L277.3,114.3 L278.8,121.8 L279.7,130.5Z" fill="rgb(178,178,178)"/>
<path d="M128.0,143.0 L127.8,152.8 L127.1,159.6 L126.0,165.4 L124.4,170.6 L122.5,175.1 L120.0,179.0 L117.2,182.3 L113.9,185.1 L110.2,187.2 L106.0,188.8 L101.1,189.7 L94.0,190.0 L86.9,189.7 L82.0,188.8 L77.8,187.2 L74.1,185.1 L70.8,182.3 L68.0,179.0 L65.5,175.1 L63.6,170.6 L62.0,165.4 L60.9,159.6 L60.2,152.8 L60.0,143.0 L60.2,133.2 L60.9,126.4 L62.0,120.6 L63.6,115.4 L65.5,110.9 L68.0,107.0 L70.8,103.7 L74.1,100.9 L77.8,98.8 L82.0,97.2 L86.9,96.3 L94.0,96.0 L101.1,96.3 L106.0,97.2 L110.2,98.8 L113.9,100.9 L117.2,103.7 L120.0,107.0 L122.5,110.9 L124.4,115.4 L126.0,120.6 L127.1,126.4 L127.8,133.2Z" fill="rgb(201,201,201)"/>
<path d="M270.0,143.0 L269.8,152.8 L269.1,159.6 L268.0,165.4 L266.4,170.6 L264.5,175.1 L262.0,179.0 L259.2,182.3 L255.9,185.1 L252.2,187.2 L248.0,188.8 L243.1,189.7 L236.0,190.0 L228.9,189.7 L224.0,188.8 L219.8,187.2 L216.1,185.1 L212.8,182.3 L210.0,179.0 L207.5,175.1 L205.6,170.6 L204.0,165.4 L202.9,159.6 L202.2,152.8 L202.0,143.0 L202.2,133.2 L202.9,126.4 L204.0,120.6 L205.6,115.4 L207.5,110.9 L210.0,107.0 L212.8,103.7 L216.1,100.9 L219.8,98.8 L224.0,97.2 L228.9,96.3 L236.0,96.0 L243.1,96.3 L248.0,97.2 L252.2,98.8 L255.9,100.9 L259.2,103.7 L262.0,107.0 L264.5,110.9 L266.4,115.4 L268.0,120.6 L269.1,126.4 L269.8,133.2Z" fill="rgb(201,201,201)"/>
<path d="M118.0,143.0 L117.8,149.6 L117.3,154.7 L116.5,159.2 L115.3,163.2 L113.8,166.8 L112.0,170.0 L109.9,172.7 L107.5,174.9 L104.8,176.7 L101.8,178.0 L98.4,178.7 L94.0,179.0 L89.6,178.7 L86.2,178.0 L83.2,176.7 L80.5,174.9 L78.1,172.7 L76.0,170.0 L74.2,166.8 L72.7,163.2 L71.5,159.2 L70.7,154.7 L70.2,149.6 L70.0,143.0 L70.2,136.4 L70.7,131.3 L71.5,126.8 L72.7,122.8 L74.2,119.2 L76.0,116.0 L78.1,113.3 L80.5,111.1 L83.2,109.3 L86.2,108.0 L89.6,107.3 L94.0,107.0 L98.4,107.3 L101.8,108.0 L104.8,109.3 L107.5,111.1 L109.9,113.3 L112.0,116.0 L113.8,119.2 L115.3,122.8 L116.5,126.8 L117.3,131.3 L117.8,136.4Z" fill="rgb(217,217,217)"/>
<path d="M260.0,143.0 L259.8,149.6 L259.3,154.7 L258.5,159.2 L257.3,163.2 L255.8,166.8 L254.0,170.0 L251.9,172.7 L249.5,174.9 L246.8,176.7 L243.8,178.0 L240.4,178.7 L236.0,179.0 L231.6,178.7 L228.2,178.0 L225.2,176.7 L222.5,174.9 L220.1,172.7 L218.0,170.0 L216.2,166.8 L214.7,163.2 L213.5,159.2 L212.7,154.7 L212.2,149.6 L212.0,143.0 L212.2,136.4 L212.7,131.3 L213.5,126.8 L214.7,122.8 L216.2,119.2 L218.0,116.0 L220.1,113.3 L222.5,111.1 L225.2,109.3 L228.2,108.0 L231.6,107.3 L236.0,107.0 L240.4,107.3 L243.8,108.0 L246.8,109.3 L249.5,111.1 L251.9,113.3 L254.0,116.0 L255.8,119.2 L257.3,122.8 L258.5,126.8 L259.3,131.3 L259.8,136.4Z" fill="rgb(217,217,217)"/>
<circle cx="162.0" cy="143.0" r="47.0" fill="rgb(107,107,107)"/>
<circle cx="163.0" cy="143.0" r="41.0" fill="rgb(92,92,92)"/>
<circle cx="164.0" cy="143.0" r="33.0" fill="rgb(76,76,76)"/>
<ellipse cx="165.0" cy="143.0" rx="21.0" ry="75.0" fill="rgb(54,54,54)"/>
<ellipse cx="165.0" cy="143.0" rx="8.0" ry="70.0" fill="rgb(38,38,38)"/></g><g filter="url(#fs)"><path d="M139.3,98.4 L135.4,100.7 L131.7,103.4 L128.2,106.4 L125.1,109.6 L122.2,113.2 L119.7,117.0 L117.5,121.0 L115.7,125.2 L114.3,129.5 L113.3,133.9 L112.7,138.5 L112.5,143.0 L112.7,147.5 L113.3,152.1 L114.3,156.5 L115.7,160.8 L117.5,165.0 L119.7,169.0 L122.2,172.8 L125.1,176.4 L128.2,179.6 L131.7,182.6 L135.4,185.3 L139.3,187.6 L142.6,181.4 L139.2,179.4 L136.0,177.1 L133.1,174.6 L130.3,171.7 L127.9,168.7 L125.7,165.4 L123.8,162.0 L122.3,158.4 L121.1,154.6 L120.2,150.8 L119.7,146.9 L119.5,143.0 L119.7,139.1 L120.2,135.2 L121.1,131.4 L122.3,127.6 L123.8,124.0 L125.7,120.6 L127.9,117.3 L130.3,114.3 L133.1,111.4 L136.0,108.9 L139.2,106.6 L142.6,104.6Z" fill="rgb(184,184,184)"/>
<path d="M190.7,98.4 L194.6,100.7 L198.3,103.4 L201.8,106.4 L204.9,109.6 L207.8,113.2 L210.3,117.0 L212.5,121.0 L214.3,125.2 L215.7,129.5 L216.7,133.9 L217.3,138.5 L217.5,143.0 L217.3,147.5 L216.7,152.1 L215.7,156.5 L214.3,160.8 L212.5,165.0 L210.3,169.0 L207.8,172.8 L204.9,176.4 L201.8,179.6 L198.3,182.6 L194.6,185.3 L190.7,187.6 L187.4,181.4 L190.8,179.4 L194.0,177.1 L196.9,174.6 L199.7,171.7 L202.1,168.7 L204.3,165.4 L206.2,162.0 L207.7,158.4 L208.9,154.6 L209.8,150.8 L210.3,146.9 L210.5,143.0 L210.3,139.1 L209.8,135.2 L208.9,131.4 L207.7,127.6 L206.2,124.0 L204.3,120.6 L202.1,117.3 L199.7,114.3 L196.9,111.4 L194.0,108.9 L190.8,106.6 L187.4,104.6Z" fill="rgb(184,184,184)"/>
<path d="M132.2,103.6 L129.3,106.0 L126.6,108.7 L124.1,111.5 L121.9,114.6 L119.8,117.7 L118.1,121.1 L116.5,124.5 L115.3,128.1 L114.3,131.8 L113.6,135.5 L113.1,139.2 L113.0,143.0 L113.1,146.8 L113.6,150.5 L114.3,154.2 L115.3,157.9 L116.5,161.5 L118.1,164.9 L119.8,168.3 L121.9,171.4 L124.1,174.5 L126.6,177.3 L129.3,180.0 L132.2,182.4 L135.0,178.9 L132.4,176.6 L129.9,174.2 L127.6,171.6 L125.6,168.9 L123.7,166.0 L122.1,162.9 L120.7,159.8 L119.6,156.6 L118.7,153.2 L118.0,149.9 L117.6,146.4 L117.5,143.0 L117.6,139.6 L118.0,136.1 L118.7,132.8 L119.6,129.4 L120.7,126.2 L122.1,123.1 L123.7,120.0 L125.6,117.1 L127.6,114.4 L129.9,111.8 L132.4,109.4 L135.0,107.1Z" fill="rgb(235,235,235)"/>
<path d="M197.8,103.6 L200.7,106.0 L203.4,108.7 L205.9,111.5 L208.1,114.6 L210.2,117.7 L211.9,121.1 L213.5,124.5 L214.7,128.1 L215.7,131.8 L216.4,135.5 L216.9,139.2 L217.0,143.0 L216.9,146.8 L216.4,150.5 L215.7,154.2 L214.7,157.9 L213.5,161.5 L211.9,164.9 L210.2,168.3 L208.1,171.4 L205.9,174.5 L203.4,177.3 L200.7,180.0 L197.8,182.4 L195.0,178.9 L197.6,176.6 L200.1,174.2 L202.4,171.6 L204.4,168.9 L206.3,166.0 L207.9,162.9 L209.3,159.8 L210.4,156.6 L211.3,153.2 L212.0,149.9 L212.4,146.4 L212.5,143.0 L212.4,139.6 L212.0,136.1 L211.3,132.8 L210.4,129.4 L209.3,126.2 L207.9,123.1 L206.3,120.0 L204.4,117.1 L202.4,114.4 L200.1,111.8 L197.6,109.4 L195.0,107.1Z" fill="rgb(235,235,235)"/>
<path d="M125.1,111.2 L123.3,113.4 L121.6,115.8 L120.1,118.2 L118.8,120.8 L117.5,123.4 L116.5,126.1 L115.6,128.8 L114.8,131.6 L114.3,134.4 L113.8,137.3 L113.6,140.1 L113.5,143.0 L113.6,145.9 L113.8,148.7 L114.3,151.6 L114.8,154.4 L115.6,157.2 L116.5,159.9 L117.5,162.6 L118.8,165.2 L120.1,167.8 L121.6,170.2 L123.3,172.6 L125.1,174.8 L127.4,172.9 L125.7,170.8 L124.1,168.6 L122.7,166.2 L121.4,163.9 L120.3,161.4 L119.3,158.9 L118.5,156.3 L117.8,153.7 L117.2,151.1 L116.8,148.4 L116.6,145.7 L116.5,143.0 L116.6,140.3 L116.8,137.6 L117.2,134.9 L117.8,132.3 L118.5,129.7 L119.3,127.1 L120.3,124.6 L121.4,122.1 L122.7,119.8 L124.1,117.4 L125.7,115.2 L127.4,113.1Z" fill="rgb(255,255,255)"/>
<path d="M204.9,111.2 L206.7,113.4 L208.4,115.8 L209.9,118.2 L211.2,120.8 L212.5,123.4 L213.5,126.1 L214.4,128.8 L215.2,131.6 L215.7,134.4 L216.2,137.3 L216.4,140.1 L216.5,143.0 L216.4,145.9 L216.2,148.7 L215.7,151.6 L215.2,154.4 L214.4,157.2 L213.5,159.9 L212.5,162.6 L211.2,165.2 L209.9,167.8 L208.4,170.2 L206.7,172.6 L204.9,174.8 L202.6,172.9 L204.3,170.8 L205.9,168.6 L207.3,166.2 L208.6,163.9 L209.7,161.4 L210.7,158.9 L211.5,156.3 L212.2,153.7 L212.8,151.1 L213.2,148.4 L213.4,145.7 L213.5,143.0 L213.4,140.3 L213.2,137.6 L212.8,134.9 L212.2,132.3 L211.5,129.7 L210.7,127.1 L209.7,124.6 L208.6,122.1 L207.3,119.8 L205.9,117.4 L204.3,115.2 L202.6,113.1Z" fill="rgb(255,255,255)"/></g></g></g>
<g clip-path="url(#ce)"><g transform="translate(1432,437)"><g filter="url(#fe)"><rect x="-60.0" y="-60.0" width="450.0" height="420.0" fill="rgb(38,38,38)"/>
<ellipse cx="0.0" cy="0.0" rx="80.0" ry="70.0" fill="rgb(31,31,31)"/>
<ellipse cx="330.0" cy="0.0" rx="80.0" ry="70.0" fill="rgb(31,31,31)"/>
<ellipse cx="0.0" cy="286.0" rx="80.0" ry="70.0" fill="rgb(31,31,31)"/>
<ellipse cx="330.0" cy="286.0" rx="80.0" ry="70.0" fill="rgb(31,31,31)"/>
<ellipse cx="165.0" cy="-5.0" rx="85.0" ry="62.0" fill="rgb(31,31,31)"/>
<ellipse cx="165.0" cy="291.0" rx="85.0" ry="62.0" fill="rgb(31,31,31)"/>
<ellipse cx="165.0" cy="-5.0" rx="62.0" ry="45.0" fill="rgb(26,26,26)"/>
<ellipse cx="165.0" cy="291.0" rx="62.0" ry="45.0" fill="rgb(26,26,26)"/>
<ellipse cx="0.0" cy="0.0" rx="55.0" ry="50.0" fill="rgb(20,20,20)"/>
<ellipse cx="330.0" cy="0.0" rx="55.0" ry="50.0" fill="rgb(20,20,20)"/>
<ellipse cx="0.0" cy="286.0" rx="55.0" ry="50.0" fill="rgb(20,20,20)"/>
<ellipse cx="330.0" cy="286.0" rx="55.0" ry="50.0" fill="rgb(20,20,20)"/>
<ellipse cx="0.0" cy="0.0" rx="32.0" ry="30.0" fill="rgb(10,10,10)"/>
<ellipse cx="330.0" cy="0.0" rx="32.0" ry="30.0" fill="rgb(10,10,10)"/>
<ellipse cx="0.0" cy="286.0" rx="32.0" ry="30.0" fill="rgb(10,10,10)"/>
<ellipse cx="330.0" cy="286.0" rx="32.0" ry="30.0" fill="rgb(10,10,10)"/>
<ellipse cx="100.0" cy="143.0" rx="92.0" ry="118.0" fill="rgb(51,51,51)"/>
<ellipse cx="230.0" cy="143.0" rx="92.0" ry="118.0" fill="rgb(51,51,51)"/>
<ellipse cx="165.0" cy="143.0" rx="130.0" ry="78.0" fill="rgb(51,51,51)"/>
<ellipse cx="100.0" cy="143.0" rx="68.0" ry="76.0" fill="rgb(69,69,69)"/>
<ellipse cx="230.0" cy="143.0" rx="68.0" ry="76.0" fill="rgb(69,69,69)"/>
<ellipse cx="165.0" cy="143.0" rx="100.0" ry="62.0" fill="rgb(69,69,69)"/>
<ellipse cx="102.0" cy="143.0" rx="58.0" ry="68.0" fill="rgb(87,87,87)"/>
<ellipse cx="228.0" cy="143.0" rx="58.0" ry="68.0" fill="rgb(87,87,87)"/>
<ellipse cx="165.0" cy="143.0" rx="92.0" ry="56.0" fill="rgb(87,87,87)"/>
<ellipse cx="106.0" cy="143.0" rx="50.0" ry="58.0" fill="rgb(112,112,112)"/>
<ellipse cx="224.0" cy="143.0" rx="50.0" ry="58.0" fill="rgb(112,112,112)"/>
<ellipse cx="165.0" cy="143.0" rx="82.0" ry="50.0" fill="rgb(112,112,112)"/>
<ellipse cx="165.0" cy="143.0" rx="70.0" ry="45.0" fill="rgb(122,122,122)"/>
<ellipse cx="165.0" cy="143.0" rx="52.0" ry="40.0" fill="rgb(135,135,135)"/>
<ellipse cx="165.0" cy="143.0" rx="9.0" ry="50.0" fill="rgb(105,105,105)"/></g><g filter="url(#fs)"><path d="M137.6,98.0 L133.3,100.1 L129.3,102.6 L125.5,105.5 L122.0,108.7 L118.9,112.2 L116.1,116.1 L113.7,120.2 L111.6,124.5 L110.1,128.9 L108.9,133.6 L108.2,138.3 L108.0,143.0 L108.2,147.7 L108.9,152.4 L110.1,157.1 L111.6,161.5 L113.7,165.8 L116.1,169.9 L118.9,173.8 L122.0,177.3 L125.5,180.5 L129.3,183.4 L133.3,185.9 L137.6,188.0 L140.3,188.0 L138.6,184.5 L136.9,181.0 L135.4,177.4 L134.1,173.7 L132.9,170.0 L131.9,166.2 L131.0,162.4 L130.3,158.6 L129.7,154.7 L129.3,150.8 L129.1,146.9 L129.0,143.0 L129.1,139.1 L129.3,135.2 L129.7,131.3 L130.3,127.4 L131.0,123.6 L131.9,119.8 L132.9,116.0 L134.1,112.3 L135.4,108.6 L136.9,105.0 L138.6,101.5 L140.3,98.0Z" fill="rgb(153,153,153)"/>
<path d="M192.4,98.0 L196.7,100.1 L200.7,102.6 L204.5,105.5 L208.0,108.7 L211.1,112.2 L213.9,116.1 L216.3,120.2 L218.4,124.5 L219.9,128.9 L221.1,133.6 L221.8,138.3 L222.0,143.0 L221.8,147.7 L221.1,152.4 L219.9,157.1 L218.4,161.5 L216.3,165.8 L213.9,169.9 L211.1,173.8 L208.0,177.3 L204.5,180.5 L200.7,183.4 L196.7,185.9 L192.4,188.0 L189.7,188.0 L191.4,184.5 L193.1,181.0 L194.6,177.4 L195.9,173.7 L197.1,170.0 L198.1,166.2 L199.0,162.4 L199.7,158.6 L200.3,154.7 L200.7,150.8 L200.9,146.9 L201.0,143.0 L200.9,139.1 L200.7,135.2 L200.3,131.3 L199.7,127.4 L199.0,123.6 L198.1,119.8 L197.1,116.0 L195.9,112.3 L194.6,108.6 L193.1,105.0 L191.4,101.5 L189.7,98.0Z" fill="rgb(153,153,153)"/>
<path d="M142.7,100.0 L137.9,101.3 L133.3,103.2 L128.9,105.6 L124.8,108.4 L121.1,111.7 L117.7,115.4 L114.8,119.4 L112.4,123.8 L110.5,128.4 L109.1,133.1 L108.3,138.0 L108.0,143.0 L108.3,148.0 L109.1,152.9 L110.5,157.6 L112.4,162.2 L114.8,166.6 L117.7,170.6 L121.1,174.3 L124.8,177.6 L128.9,180.4 L133.3,182.8 L137.9,184.7 L142.7,186.0 L141.5,186.0 L139.7,182.7 L138.1,179.3 L136.5,175.9 L135.2,172.4 L134.0,168.9 L132.9,165.3 L132.0,161.6 L131.3,157.9 L130.7,154.2 L130.3,150.5 L130.1,146.8 L130.0,143.0 L130.1,139.2 L130.3,135.5 L130.7,131.8 L131.3,128.1 L132.0,124.4 L132.9,120.7 L134.0,117.1 L135.2,113.6 L136.5,110.1 L138.1,106.7 L139.7,103.3 L141.5,100.0Z" fill="rgb(184,184,184)"/>
<path d="M187.3,100.0 L192.1,101.3 L196.7,103.2 L201.1,105.6 L205.2,108.4 L208.9,111.7 L212.3,115.4 L215.2,119.4 L217.6,123.8 L219.5,128.4 L220.9,133.1 L221.7,138.0 L222.0,143.0 L221.7,148.0 L220.9,152.9 L219.5,157.6 L217.6,162.2 L215.2,166.6 L212.3,170.6 L208.9,174.3 L205.2,177.6 L201.1,180.4 L196.7,182.8 L192.1,184.7 L187.3,186.0 L188.5,186.0 L190.3,182.7 L191.9,179.3 L193.5,175.9 L194.8,172.4 L196.0,168.9 L197.1,165.3 L198.0,161.6 L198.7,157.9 L199.3,154.2 L199.7,150.5 L199.9,146.8 L200.0,143.0 L199.9,139.2 L199.7,135.5 L199.3,131.8 L198.7,128.1 L198.0,124.4 L197.1,120.7 L196.0,117.1 L194.8,113.6 L193.5,110.1 L191.9,106.7 L190.3,103.3 L188.5,100.0Z" fill="rgb(184,184,184)"/>
<path d="M135.3,106.0 L131.9,107.8 L128.7,109.9 L125.8,112.4 L123.0,115.0 L120.5,118.0 L118.3,121.1 L116.4,124.5 L114.9,128.0 L113.6,131.6 L112.7,135.4 L112.2,139.2 L112.0,143.0 L112.2,146.8 L112.7,150.6 L113.6,154.4 L114.9,158.0 L116.4,161.5 L118.3,164.9 L120.5,168.0 L123.0,171.0 L125.8,173.6 L128.7,176.1 L131.9,178.2 L135.3,180.0 L136.8,180.0 L134.8,177.3 L133.0,174.6 L131.3,171.7 L129.8,168.7 L128.5,165.7 L127.3,162.6 L126.3,159.4 L125.5,156.2 L124.8,152.9 L124.4,149.6 L124.1,146.3 L124.0,143.0 L124.1,139.7 L124.4,136.4 L124.8,133.1 L125.5,129.8 L126.3,126.6 L127.3,123.4 L128.5,120.3 L129.8,117.3 L131.3,114.3 L133.0,111.4 L134.8,108.7 L136.8,106.0Z" fill="rgb(219,219,219)"/>
<path d="M194.7,106.0 L198.1,107.8 L201.3,109.9 L204.2,112.4 L207.0,115.0 L209.5,118.0 L211.7,121.1 L213.6,124.5 L215.1,128.0 L216.4,131.6 L217.3,135.4 L217.8,139.2 L218.0,143.0 L217.8,146.8 L217.3,150.6 L216.4,154.4 L215.1,158.0 L213.6,161.5 L211.7,164.9 L209.5,168.0 L207.0,171.0 L204.2,173.6 L201.3,176.1 L198.1,178.2 L194.7,180.0 L193.2,180.0 L195.2,177.3 L197.0,174.6 L198.7,171.7 L200.2,168.7 L201.5,165.7 L202.7,162.6 L203.7,159.4 L204.5,156.2 L205.2,152.9 L205.6,149.6 L205.9,146.3 L206.0,143.0 L205.9,139.7 L205.6,136.4 L205.2,133.1 L204.5,129.8 L203.7,126.6 L202.7,123.4 L201.5,120.3 L200.2,117.3 L198.7,114.3 L197.0,111.4 L195.2,108.7 L193.2,106.0Z" fill="rgb(219,219,219)"/>
<path d="M123.4,118.0 L122.0,119.8 L120.8,121.6 L119.6,123.6 L118.6,125.6 L117.6,127.6 L116.8,129.7 L116.1,131.9 L115.5,134.1 L115.1,136.3 L114.8,138.5 L114.6,140.7 L114.5,143.0 L114.6,145.3 L114.8,147.5 L115.1,149.7 L115.5,151.9 L116.1,154.1 L116.8,156.3 L117.6,158.4 L118.6,160.4 L119.6,162.4 L120.8,164.4 L122.0,166.2 L123.4,168.0 L127.4,168.0 L126.2,166.1 L125.2,164.2 L124.2,162.2 L123.3,160.2 L122.6,158.1 L121.9,156.0 L121.3,153.9 L120.8,151.8 L120.5,149.6 L120.2,147.4 L120.1,145.2 L120.0,143.0 L120.1,140.8 L120.2,138.6 L120.5,136.4 L120.8,134.2 L121.3,132.1 L121.9,130.0 L122.6,127.9 L123.3,125.8 L124.2,123.8 L125.2,121.8 L126.2,119.9 L127.4,118.0Z" fill="rgb(245,245,245)"/>
<path d="M206.6,118.0 L208.0,119.8 L209.2,121.6 L210.4,123.6 L211.4,125.6 L212.4,127.6 L213.2,129.7 L213.9,131.9 L214.5,134.1 L214.9,136.3 L215.2,138.5 L215.4,140.7 L215.5,143.0 L215.4,145.3 L215.2,147.5 L214.9,149.7 L214.5,151.9 L213.9,154.1 L213.2,156.3 L212.4,158.4 L211.4,160.4 L210.4,162.4 L209.2,164.4 L208.0,166.2 L206.6,168.0 L202.6,168.0 L203.8,166.1 L204.8,164.2 L205.8,162.2 L206.7,160.2 L207.4,158.1 L208.1,156.0 L208.7,153.9 L209.2,151.8 L209.5,149.6 L209.8,147.4 L209.9,145.2 L210.0,143.0 L209.9,140.8 L209.8,138.6 L209.5,136.4 L209.2,134.2 L208.7,132.1 L208.1,130.0 L207.4,127.9 L206.7,125.8 L205.8,123.8 L204.8,121.8 L203.8,119.9 L202.6,118.0Z" fill="rgb(245,245,245)"/></g></g></g>
<line x1="1084" y1="49.8" x2="1414" y2="49.8" stroke="#4a6896" stroke-width="1.6"/>
<line x1="1432" y1="49.8" x2="1762" y2="49.8" stroke="#4a6896" stroke-width="1.6"/>
<line x1="1084" y1="437.8" x2="1414" y2="437.8" stroke="#4a6896" stroke-width="1.6"/>
<line x1="1432" y1="437.8" x2="1762" y2="437.8" stroke="#4a6896" stroke-width="1.6"/>
<g fill="#eef4ff" font-size="40" letter-spacing="3.5"><text x="1090" y="93">(b)</text><text x="1439" y="93">(c)</text><text x="1090" y="481.6">(d)</text><text x="1439" y="481.6">(e)</text></g><path d="M1112.1,377.0 V391.8 H1126.0" fill="none" stroke="#f4f8ff" stroke-width="2.2"/>
<path d="M1103.8,377.0 L1120.4,377.0 L1112.1,362.5 Z" fill="#f4f8ff"/>
<path d="M1126.0,383.6 L1126.0,400.0 L1141.3,391.8 Z" fill="#f4f8ff"/>
<text x="1104.0" y="359.6" font-size="31" font-style="italic" fill="#f4f8ff">z</text>
<text x="1144.0" y="402.3" font-size="31" font-style="italic" fill="#f4f8ff">x</text><path d="M1451.9,392.1 V407.2 H1466.7" fill="none" stroke="#f4f8ff" stroke-width="2.2"/>
<path d="M1443.6,392.1 L1460.2,392.1 L1451.9,377.6 Z" fill="#f4f8ff"/>
<path d="M1466.7,399.0 L1466.7,415.4 L1482.0,407.2 Z" fill="#f4f8ff"/>
<text x="1444.5" y="374.2" font-size="31" font-style="italic" fill="#f4f8ff">z</text>
<text x="1484.7" y="417.7" font-size="31" font-style="italic" fill="#f4f8ff">x</text><path d="M1102.5,688.0 V703.2 H1117.6" fill="none" stroke="#f4f8ff" stroke-width="2.2"/>
<path d="M1094.2,688.0 L1110.8,688.0 L1102.5,673.5 Z" fill="#f4f8ff"/>
<path d="M1117.6,695.0 L1117.6,711.4 L1132.9,703.2 Z" fill="#f4f8ff"/>
<text x="1094.0" y="671.0" font-size="31" font-style="italic" fill="#f4f8ff">y</text>
<text x="1135.6" y="713.7" font-size="31" font-style="italic" fill="#f4f8ff">x</text><path d="M1452.7,687.5 V702.1 H1467.8" fill="none" stroke="#f4f8ff" stroke-width="2.2"/>
<path d="M1444.4,687.5 L1461.0,687.5 L1452.7,673.0 Z" fill="#f4f8ff"/>
<path d="M1467.8,693.9 L1467.8,710.3 L1483.1,702.1 Z" fill="#f4f8ff"/>
<text x="1445.0" y="670.0" font-size="31" font-style="italic" fill="#f4f8ff">y</text>
<text x="1485.8" y="712.6" font-size="31" font-style="italic" fill="#f4f8ff">x</text>
</svg></body></html>
